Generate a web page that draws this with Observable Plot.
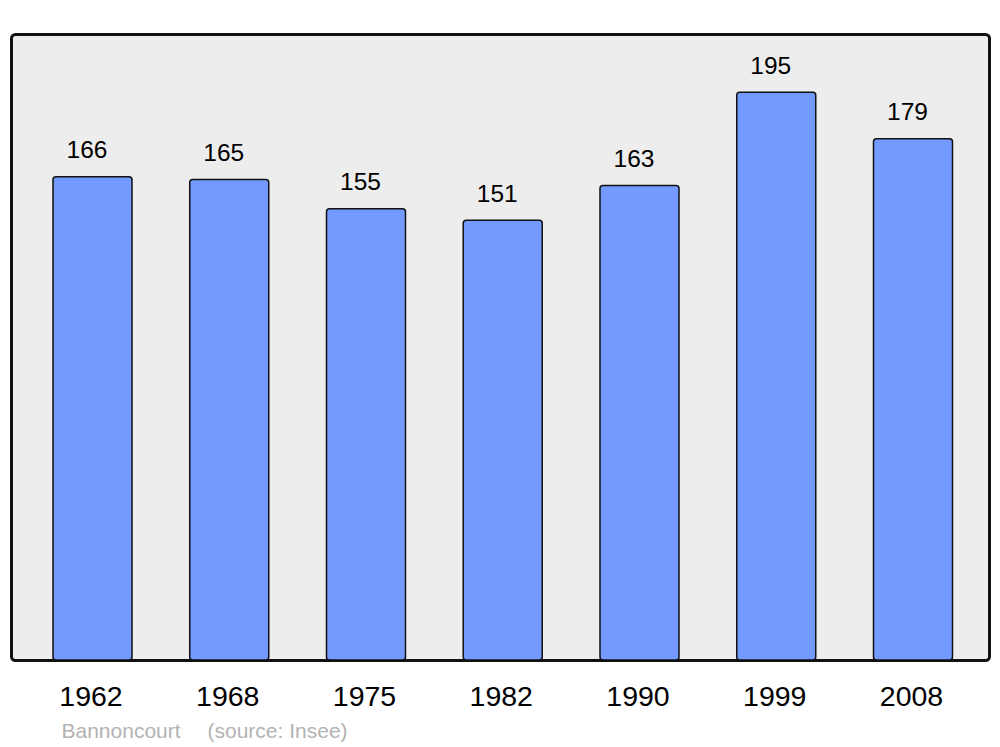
<!DOCTYPE html>
<html>
<head>
<meta charset="utf-8">
<script src="https://cdn.jsdelivr.net/npm/d3@7"></script>
<script src="https://cdn.jsdelivr.net/npm/@observablehq/plot@0.6"></script>
<style>
  html, body { margin: 0; padding: 0; background: #fff; }
  svg { display: block; }
</style>
</head>
<body>
<div id="chart"></div>
<script>
const years = ["1962", "1968", "1975", "1982", "1990", "1999", "2008"];
const values = [166, 165, 155, 151, 163, 195, 179];
const commune = "Bannoncourt";
const source = "(source: Insee)";

const data = years.map((y, i) => ({year: y, value: values[i]}));

const chart = Plot.plot({
  width: 1000,
  height: 747,
  marginTop: 34,
  marginBottom: 87,
  marginLeft: 11,
  marginRight: 11,
  style: {fontFamily: "'Liberation Sans', Arial, sans-serif", background: "#fff"},
  x: {domain: years, paddingInner: 0.4223, paddingOuter: 0.287, align: 0.535, round: false, label: null},
  y: {domain: [0, 215], axis: null},
  marks: [
    Plot.frame({fill: "#ededed", stroke: "#111", strokeWidth: 3, rx: 4}),
    Plot.barY(data, {x: "year", y: "value", fill: "#7499ff", stroke: "#111", strokeWidth: 1.5, rx: 3}),
    Plot.text(data, {x: "year", y: "value", text: d => String(d.value), dx: -6, dy: -19, lineAnchor: "bottom", fontSize: 24.5, fill: "#000"}),
    Plot.axisX({tickSize: 0, tickPadding: 25, dx: -2, fontSize: 28.5, color: "#000", label: null}),
    Plot.text([commune], {frameAnchor: "bottom-left", dx: 50, dy: 77, lineAnchor: "bottom", textAnchor: "start", fontSize: 21, fill: "#b3b3b3"}),
    Plot.text([source], {frameAnchor: "bottom-left", dx: 196, dy: 77, lineAnchor: "bottom", textAnchor: "start", fontSize: 21, fill: "#b3b3b3"})
  ]
});
document.getElementById("chart").appendChild(chart);
</script>
</body>
</html>
